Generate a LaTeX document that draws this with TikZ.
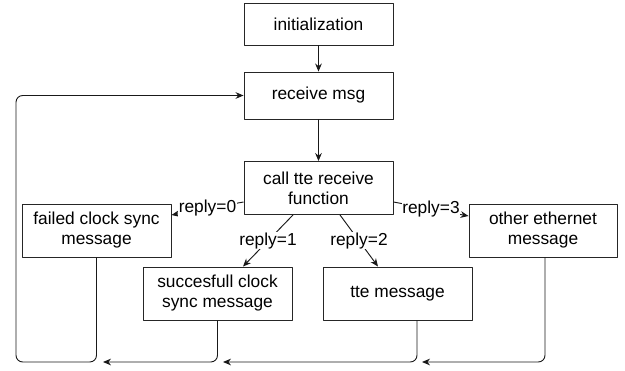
\documentclass[tikz,border=0pt]{standalone}
\usepackage{fontspec}
\setmainfont{Liberation Sans}
\usetikzlibrary{arrows.meta,positioning,calc}

\tikzset{
  state/.style={draw=black!85, line width=0.7pt, align=center, inner sep=2pt,
    minimum width=111.75pt, minimum height=39.75pt, font=\fontsize{13}{15}\selectfont},
  flow/.style={draw=black!90, line width=0.7pt, -{Stealth[length=6pt,width=5pt]}},
  reply/.style={fill=white, inner sep=0.5pt, font=\fontsize{13}{15}\selectfont},
}

\begin{document}
\begin{tikzpicture}[x=0.75pt, y=-0.75pt, line join=round]
\useasboundingbox (0,0) rectangle (625,371);
% main column
\node[state, minimum height=31.5pt]  (init)   at (318.5,24)   {initialization};
\node[state, minimum height=35.25pt] (recv)   at (318.5,95.5) {receive msg};
\node[state]                         (call)   at (318.5,188)  {call tte receive\\function};
% reply cases
\node[state]                         (failed) at (96.5,230.5)  {failed clock sync\\message};
\node[state]                         (succ)   at (217.5,293.5) {succesfull clock\\sync message};
\node[state]                         (tte)    at (397.5,293.5) {tte message};
\node[state, minimum width=111pt]    (other)  at (543,230.5)   {other ethernet\\message};
% return rail
\coordinate (rail0) at (16,362);
\coordinate (tip1)  at (103,362);
\coordinate (tip2)  at (223,362);
\coordinate (tip3)  at (422,362);

\draw[flow] (init) -- (recv);
\draw[flow] (recv) -- (call);
\draw[flow] ($(call.west)+(0,14)$) -- node[reply] {reply=0} ($(failed.east)+(0,-15.5)$);
\draw[flow] ($(call.south)+(-25.5,0)$) -- node[reply] {reply=1} ($(succ.north)+(25.5,0)$);
\draw[flow] ($(call.south)+(21.5,0)$) -- node[reply] {reply=2} ($(tte.north)+(-19.5,0)$);
\draw[flow] ($(call.east)+(0,14)$) -- node[reply] {reply=3} ($(other.west)+(0,-14.5)$);

\draw[flow, rounded corners=5pt] (failed.south) |- (rail0) |- (recv.west);
\draw[flow, rounded corners=5pt] (succ.south) |- (tip1);
\draw[flow, rounded corners=5pt] ($(tte.south)+(19.5,0)$) |- (tip2);
\draw[flow, rounded corners=5pt] ($(other.south)+(2,0)$) |- (tip3);
\end{tikzpicture}
\end{document}
